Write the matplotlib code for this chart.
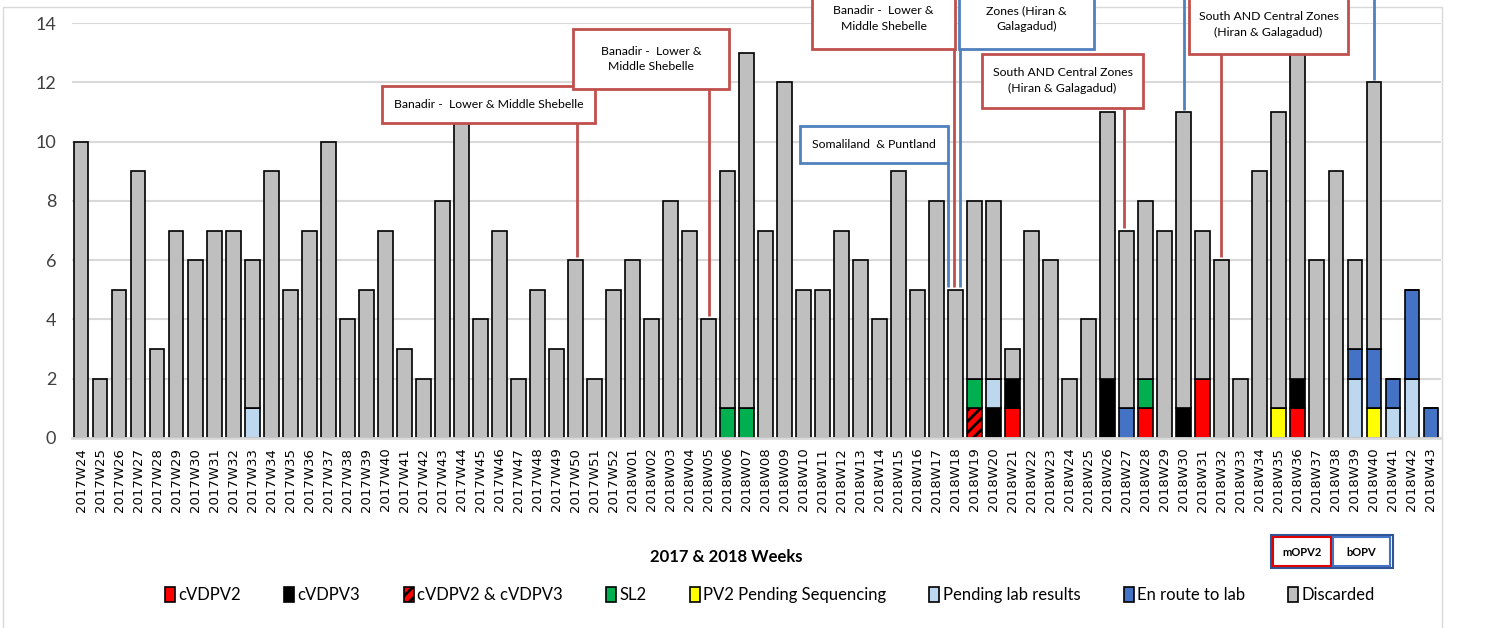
#%% imports
import matplotlib
matplotlib.use("Agg")
from matplotlib import pyplot as plt
from matplotlib.patches import Patch, Rectangle
import numpy as np

#%% data
weeks = ["2017W%02d" % w for w in range(24, 53)] + ["2018W%02d" % w for w in range(1, 44)]

discarded_2017 = [10, 2, 5, 9, 3, 7, 6, 7, 7, 5, 9, 5, 7, 10, 4, 5, 7, 3, 2, 8,
                  11, 4, 7, 2, 5, 3, 6, 2, 5]
discarded_2018 = [6, 4, 8, 7, 4, 8, 12, 7, 12, 5, 5, 7, 6, 4, 9, 5, 8, 5, 6, 6,
                  1, 7, 6, 2, 4, 9, 6, 6, 7, 10, 5, 6, 2, 9, 10, 11, 6, 9, 3, 9,
                  0, 0, 0]

cvdpv2 = {"2018W21": 1, "2018W28": 1, "2018W31": 2, "2018W36": 1}
cvdpv3 = {"2018W20": 1, "2018W21": 1, "2018W26": 2, "2018W30": 1, "2018W36": 1}
cvdpv2_3 = {"2018W19": 1}
sl2 = {"2018W06": 1, "2018W07": 1, "2018W19": 1, "2018W28": 1}
pv2_pending = {"2018W35": 1, "2018W40": 1}
pending_lab = {"2017W33": 1, "2018W20": 1, "2018W39": 2, "2018W41": 1, "2018W42": 2}
en_route = {"2018W27": 1, "2018W39": 1, "2018W40": 2, "2018W41": 1, "2018W42": 3, "2018W43": 1}

series_names = ["cVDPV2", "cVDPV3", "cVDPV2 & cVDPV3", "SL2", "PV2 Pending Sequencing",
                "Pending lab results", "En route to lab", "Discarded"]
series_colors = ["#FF0000", "#000000", "#FF0000", "#00B050", "#FFFF00",
                 "#BDD7EE", "#4472C4", "#BFBFBF"]
series_hatch = [None, None, "///", None, None, None, None, None]

#%% annotation boxes (layout only): text, colour, target week, line dx, box x0, x1, y0, y1
annotations = [
    ("Banadir -  Lower & Middle Shebelle", "#C0504D", "2017W50", 0.09, 15.83, 27.03, 10.63, 11.88),
    ("Banadir -  Lower &\nMiddle Shebelle", "#C0504D", "2018W05", 0.05, 25.88, 34.08, 11.77, 13.80),
    ("Banadir -  Lower &\nMiddle Shebelle", "#C0504D", "2018W18", -0.09, 38.45, 45.97, 13.12, 15.18),
    ("Somaliland  & Puntland", "#4F81BD", "2018W18", -0.42, 37.81, 45.60, 9.28, 10.53),
    ("South AND Central\nZones (Hiran &\nGalagadud)", "#4F81BD", "2018W18", 0.23, 46.18, 53.28, 13.12, 15.70),
    ("South AND Central Zones\n(Hiran & Galagadud)", "#C0504D", "2018W27", -0.15, 47.39, 55.85, 11.13, 12.96),
    ("South AND Central Zones\n(Hiran & Galagadud)", "#C0504D", "2018W32", -0.04, 58.27, 66.64, 12.96, 14.95),
]
blue_lines = ["2018W30", "2018W40"]

#%% build stacks
def to_array(d):
    return np.array([d.get(w, 0) for w in weeks], dtype=float)

discarded = np.array(discarded_2017 + discarded_2018, dtype=float)
stacks = [to_array(cvdpv2), to_array(cvdpv3), to_array(cvdpv2_3), to_array(sl2),
          to_array(pv2_pending), to_array(pending_lab), to_array(en_route), discarded]
totals = np.sum(stacks, axis=0)

#%% plot
plt.rcParams['hatch.linewidth'] = 2.0
label_font = ['Lato', 'DejaVu Sans']

fig = plt.figure(figsize=(15.02, 6.28), dpi=100)
ax = fig.add_axes([71.5 / 1502, 190 / 628, 1369 / 1502, 415 / 628])
ax.patch.set_alpha(0)

x = np.arange(len(weeks))
bottom = np.zeros(len(weeks))
for vals, name, col, hat in zip(stacks, series_names, series_colors, series_hatch):
    ax.bar(x, vals, 0.78, bottom=bottom, color=col, edgecolor="black",
           linewidth=1.2, hatch=hat, zorder=2)
    bottom = bottom + vals

ax.set_xlim(-0.5, len(weeks) - 0.5)
ax.set_ylim(0, 14)
ax.set_yticks(range(0, 15, 2))
ax.yaxis.grid(True, color="#D9D9D9", linewidth=1.5)
ax.set_axisbelow(True)
for s in ["left", "top", "right"]:
    ax.spines[s].set_visible(False)
ax.spines["bottom"].set_color("#D9D9D9")
ax.spines["bottom"].set_linewidth(2)
ax.set_xticks(x)
ax.set_xticklabels(weeks, rotation=90, fontsize=9.5, family="DejaVu Sans")
ax.tick_params(axis="x", length=0, pad=7)
ax.tick_params(axis="y", length=0, pad=11)
for t in ax.get_yticklabels():
    t.set_family(label_font)
    t.set_fontsize(13)
    t.set_color("#404040")

# annotation boxes with connector lines
for text, col, wk, dx, x0, x1, y0, y1 in annotations:
    i = weeks.index(wk)
    ax.plot([i + dx, i + dx], [y0, totals[i] + 0.1], color=col, lw=2,
            clip_on=False, zorder=4, solid_capstyle="butt")
    ax.add_patch(Rectangle((x0, y0), x1 - x0, y1 - y0, facecolor="white",
                           edgecolor=col, lw=2, clip_on=False, zorder=5))
    ax.text((x0 + x1) / 2, (y0 + y1) / 2, text, ha="center", va="center",
            fontsize=8.8, family="Lato", linespacing=1.55, zorder=6, clip_on=False)
for wk in blue_lines:
    i = weeks.index(wk)
    ax.plot([i, i], [16, totals[i] + 0.07], color="#4F81BD", lw=2,
            clip_on=False, zorder=4, solid_capstyle="butt")

# chart border
fig.patches.append(Rectangle((3 / 1502, -0.05), 1439 / 1502, 1.05 - 7 / 628,
                             transform=fig.transFigure, fill=False,
                             edgecolor="#D9D9D9", lw=1, zorder=-1))

fig.text(726 / 1502, 1 - 557 / 628, "2017 & 2018 Weeks", ha="center", va="center",
         fontsize=12, fontweight="bold", family=label_font)

handles = [Patch(facecolor=c, edgecolor="black", hatch=h, linewidth=1.2)
           for c, h in zip(series_colors, series_hatch)]
fig.legend(handles, series_names, loc="center", bbox_to_anchor=(770 / 1502, 1 - 595 / 628),
           ncol=8, frameon=False, prop={"family": label_font, "size": 12},
           handlelength=0.6, handleheight=1.0, handletextpad=0.2, columnspacing=2.6)

# mOPV2 / bOPV key
def px_rect(x0, y0, x1, y1, ec, lw):
    fig.patches.append(Rectangle((x0 / 1502, 1 - y1 / 628), (x1 - x0) / 1502, (y1 - y0) / 628,
                                 transform=fig.transFigure, facecolor="white",
                                 edgecolor=ec, lw=lw))

px_rect(1271, 535, 1393, 568, "#2F5597", 1.5)
px_rect(1273, 537, 1331, 566, "#E00000", 1.5)
px_rect(1333, 537, 1390, 566, "#4472C4", 1.5)
fig.text(1302 / 1502, 1 - 552 / 628, "mOPV2", ha="center", va="center", fontsize=8,
         fontweight="bold", family=label_font)
fig.text(1361 / 1502, 1 - 552 / 628, "bOPV", ha="center", va="center", fontsize=8,
         fontweight="bold", family=label_font)

fig.savefig("out.png", dpi=100)
